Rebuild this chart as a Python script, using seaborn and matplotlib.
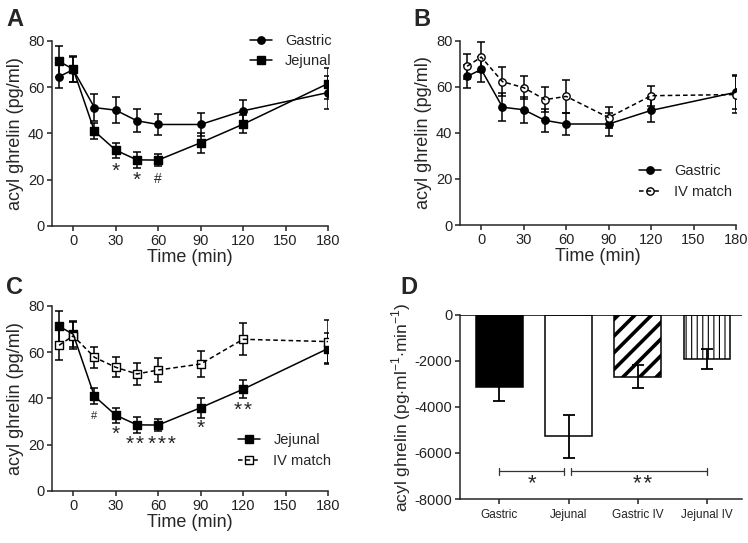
import numpy as np
import pandas as pd
import seaborn as sns
import matplotlib.pyplot as plt
from matplotlib.lines import Line2D
from matplotlib.legend_handler import HandlerTuple

# time points (min)
time = [-10, 0, 15, 30, 45, 60, 90, 120, 180]

# acyl ghrelin, mean and SEM (pg/ml)
gastric = [64.6, 67.6, 51.2, 50.1, 45.5, 43.9, 43.9, 49.8, 57.7]
gastric_sem = [5.0, 5.5, 6.0, 5.6, 5.0, 4.7, 5.0, 4.9, 7.3]
jejunal = [71.2, 67.8, 41.0, 32.8, 28.6, 28.5, 36.0, 44.0, 61.6]
jejunal_sem = [6.6, 5.6, 3.5, 3.2, 3.6, 2.7, 4.3, 4.0, 6.7]
iv_gastric = [69.0, 73.0, 62.3, 59.7, 54.5, 55.9, 46.7, 56.2, 56.7]
iv_gastric_sem = [5.4, 6.5, 6.2, 5.0, 5.5, 7.0, 4.6, 4.4, 8.0]
iv_jejunal = [63.0, 67.1, 57.8, 53.5, 50.6, 52.3, 54.9, 65.6, 64.6]
iv_jejunal_sem = [6.4, 5.8, 4.5, 4.3, 4.7, 5.0, 5.8, 6.9, 9.3]

# significance labels (label positions nudged as in the figure)
sig_a_t = [30, 45, 60]
sig_a_y = [23.5, 19.8, 20.3]
sig_a_txt = ["*", "*", "#"]
sig_c_t = [15, 30, 43.5, 63, 90, 120]
sig_c_y = [32.4, 24.5, 20.0, 20.0, 27.0, 34.8]
sig_c_txt = ["#", "*", "**", "***", "*", "**"]

# panel D: area under curve
groups = ["Gastric", "Jejunal", "Gastric IV", "Jejunal IV"]
auc = [-3125, -5280, -2680, -1925]
auc_sem = [635, 950, 490, 435]

sns.set_style("ticks")
plt.rcParams["font.family"] = ["Liberation Sans", "DejaVu Sans"]
plt.rcParams["axes.unicode_minus"] = False
plt.rcParams["mathtext.fontset"] = "custom"
plt.rcParams["mathtext.rm"] = "Liberation Sans"
plt.rcParams["axes.linewidth"] = 1.1
plt.rcParams["xtick.major.width"] = 1.1
plt.rcParams["ytick.major.width"] = 1.1
plt.rcParams["xtick.major.size"] = 3.5
plt.rcParams["ytick.major.size"] = 3.5

fig = plt.figure(figsize=(7.48, 5.43), dpi=100)
axA = fig.add_axes([0.0695, 0.5838, 0.369, 0.3407])
axB = fig.add_axes([0.615, 0.5856, 0.369, 0.339])
axC = fig.add_axes([0.0695, 0.0958, 0.369, 0.3407])
axD = fig.add_axes([0.615, 0.081, 0.377, 0.339])


def stars(s):
    # asterisks in the figure are spaced a little wider than the font does
    return "\u200a".join(s)


def series(ax, y, sem, marker, filled, dashed):
    df = pd.DataFrame({"t": time, "y": y})
    ax.errorbar(time, y, yerr=sem, fmt="none", ecolor="black", elinewidth=1.1,
                capsize=2.6, capthick=1.1, zorder=2)
    ls = (0, (3, 2)) if dashed else "-"
    face = "black" if filled else "white"
    msize = 5.6 if marker == "s" else 5.3
    sns.scatterplot(data=df, x="t", y="y", marker=marker, s=msize ** 2, color=face,
                    edgecolor="black", linewidth=1.0, ax=ax, zorder=3, legend=False)
    sns.lineplot(data=df, x="t", y="y", color="black", linewidth=1.1, linestyle=ls,
                 ax=ax, zorder=4, legend=False)
    mk = Line2D([], [], linestyle="none", marker=marker, markersize=msize,
                markerfacecolor=face, markeredgecolor="black", markeredgewidth=1.0)
    ln = Line2D([], [], color="black", linewidth=1.1, linestyle=ls)
    return (mk, ln)


def style_time(ax):
    ax.set_xlim(-15, 180)
    ax.set_ylim(0, 80)
    ax.set_xticks([0, 30, 60, 90, 120, 150, 180])
    ax.set_yticks([0, 20, 40, 60, 80])
    ax.tick_params(labelsize=10.5, colors="#222222", labelcolor="#222222", pad=2)
    ax.set_xlabel("Time (min)", fontsize=13, labelpad=1)
    ax.set_ylabel("acyl ghrelin (pg/ml)", fontsize=13, labelpad=3)
    sns.despine(ax=ax)


def add_legend(ax, handles, labels, loc, anchor):
    ax.legend(handles, labels, handler_map={tuple: HandlerTuple(ndivide=1)},
              frameon=False, fontsize=10.5, loc=loc, bbox_to_anchor=anchor,
              handlelength=1.5, handletextpad=0.9, labelspacing=0.45)


# Panel A
hg = series(axA, gastric, gastric_sem, "o", True, False)
hj = series(axA, jejunal, jejunal_sem, "s", True, False)
style_time(axA)
for t, yv, s in zip(sig_a_t, sig_a_y, sig_a_txt):
    axA.text(t, yv, stars(s), ha="center", va="center", fontsize=15 if s[0] == "*" else 10)
add_legend(axA, [hg, hj], ["Gastric", "Jejunal"], "upper right", (1.06, 1.11))

# Panel B
hg = series(axB, gastric, gastric_sem, "o", True, False)
hi = series(axB, iv_gastric, iv_gastric_sem, "o", False, True)
style_time(axB)
add_legend(axB, [hg, hi], ["Gastric", "IV match"], "lower right", (1.033, 0.07))

# Panel C
hj = series(axC, jejunal, jejunal_sem, "s", True, False)
hi = series(axC, iv_jejunal, iv_jejunal_sem, "s", False, True)
style_time(axC)
for t, yv, s in zip(sig_c_t, sig_c_y, sig_c_txt):
    axC.text(t, yv, stars(s), ha="center", va="center", fontsize=8 if s == "#" else 15)
add_legend(axC, [hj, hi], ["Jejunal", "IV match"], "lower right", (1.06, 0.054))

# Panel D
dfd = pd.DataFrame({"group": groups, "auc": auc})
sns.barplot(data=dfd, x="group", y="auc", ax=axD, width=0.67, errorbar=None,
            edgecolor="black", linewidth=1.1)
fills = ["black", "white", "white", "white"]
hatches = [None, None, "//", "|||"]
hatch_lw = [1, 1, 2.6, 0.8]
for p, fc, h, hl in zip(axD.patches, fills, hatches, hatch_lw):
    p.set_facecolor(fc)
    p.set_edgecolor("black")
    if h:
        p.set_hatch(h)
        if hasattr(p, "set_hatch_linewidth"):
            p.set_hatch_linewidth(hl)
axD.errorbar(range(len(groups)), auc, yerr=auc_sem, fmt="none", ecolor="black",
             elinewidth=1.3, capsize=4, capthick=1.3, zorder=5)
axD.set_ylim(-8000, 0)
axD.set_xlim(-0.57, 3.51)
axD.set_yticks([0, -2000, -4000, -6000, -8000])
axD.tick_params(axis="y", labelsize=10.5, colors="#222222", pad=2)
axD.tick_params(axis="x", labelsize=8.5, colors="#222222", pad=4)
axD.set_xlabel("")
axD.set_ylabel(r"acyl ghrelin (pg$\cdot$ml$^{-1}$$\cdot$min$^{-1}$)", fontsize=12.5, labelpad=1)
axD.axhline(0, color="black", linewidth=1.1, zorder=6)
sns.despine(ax=axD)

# significance brackets
brackets = [(0, 0.93, "*"), (1.04, 3.0, "**")]
for x0, x1, s in brackets:
    axD.plot([x0, x1], [-6800, -6800], color="#333333", linewidth=0.9)
    for xx in (x0, x1):
        axD.plot([xx, xx], [-6960, -6640], color="#333333", linewidth=0.9)
    axD.text((x0 + x1) / 2 if s == "*" else (x0 + x1) / 2 + 0.05, -7350, stars(s),
             ha="center", va="center", fontsize=16)

# panel letters
for lab, (px, py) in zip("ABCD", [(6, 8), (413, 8), (6, 276), (400, 276)]):
    fig.text(px / 748, 1 - py / 543, lab, fontsize=17, fontweight="bold", va="top", ha="left")

fig.savefig("out.png", dpi=100)
